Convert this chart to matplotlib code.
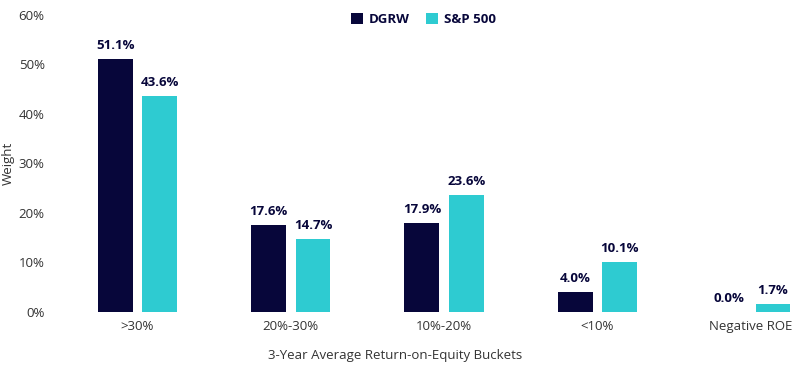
import matplotlib.pyplot as plt
import numpy as np

plt.rcParams['font.family'] = ['Open Sans', 'DejaVu Sans']

# valores del grafico
categorias = [">30%", "20%-30%", "10%-20%", "<10%", "Negative ROE"]
dgrw = [51.1, 17.6, 17.9, 4.0, 0.0]
sp500 = [43.6, 14.7, 23.6, 10.1, 1.7]
yticks = [0, 10, 20, 30, 40, 50, 60]

color_dgrw = "#07063a"
color_sp = "#2ecbd1"
color_texto = "#333333"

fig = plt.figure(figsize=(8, 3.73), dpi=100)
ax = fig.add_axes([0.075, 0.1635, 0.92, 0.7965])

x = np.arange(len(categorias))
ancho = 0.228
desp = 0.145

b1 = ax.bar(x - desp, dgrw, ancho, color=color_dgrw, label="DGRW")
b2 = ax.bar(x + desp, sp500, ancho, color=color_sp, label="S&P 500")

# etiquetas de valores arriba de cada barra
for barras, vals in [(b1, dgrw), (b2, sp500)]:
    for b, v in zip(barras, vals):
        ax.annotate(f"{v:.1f}%", (b.get_x() + b.get_width() / 2, v),
                    xytext=(0, 5), textcoords="offset points",
                    ha="center", va="bottom", fontsize=9.5,
                    fontweight="bold", color=color_dgrw)

ax.set_xlim(-0.505, 4.295)
ax.set_ylim(0, 60)
ax.set_yticks(yticks)
ax.set_yticklabels([f"{t}%" for t in yticks], fontsize=9.5, color=color_texto)
ax.set_xticks(x)
ax.set_xticklabels(categorias, fontsize=9.5, color=color_texto)
ax.tick_params(length=0, pad=6)
ax.tick_params(axis="y", pad=11)

for s in ax.spines.values():
    s.set_visible(False)

ax.set_xlabel("3-Year Average Return-on-Equity Buckets", fontsize=9.5, color=color_texto)
ax.xaxis.set_label_coords(0.455, -0.125)
ax.set_ylabel("Weight", fontsize=9.5, color=color_texto)
ax.yaxis.set_label_coords(-0.061, 0.5)

leg = ax.legend(loc="upper center", bbox_to_anchor=(0.494, 1.045), ncol=2, frameon=False,
                handlelength=0.9, handleheight=0.9, columnspacing=1.2, handletextpad=0.5,
                prop={"weight": "bold", "size": 9.5})
for t in leg.get_texts():
    t.set_color(color_dgrw)

fig.savefig("out.png", dpi=100)
